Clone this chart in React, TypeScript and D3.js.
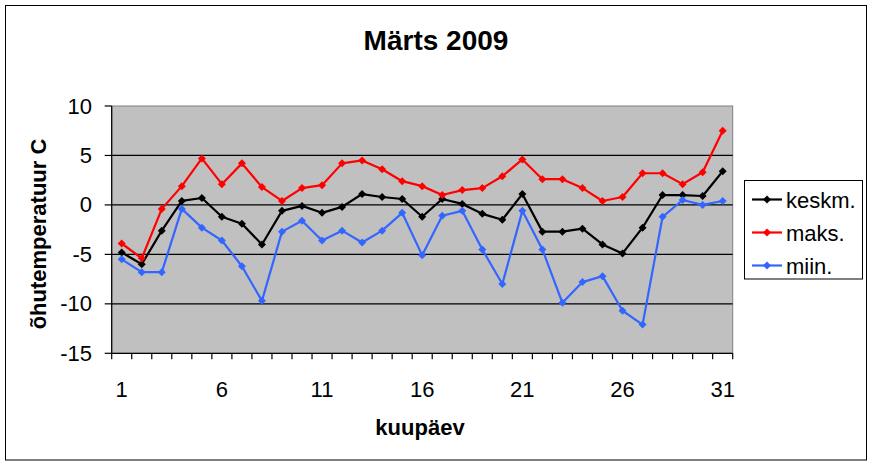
import React from "react";
import * as d3 from "d3";

const days: number[] = Array.from({ length: 31 }, (_, i) => i + 1);
const keskm: number[] = [-4.8, -6.0, -2.6, 0.4, 0.7, -1.2, -1.9, -4.0, -0.6, -0.1, -0.8, -0.2, 1.1, 0.8, 0.6, -1.2, 0.6, 0.1, -0.9, -1.5, 1.1, -2.7, -2.7, -2.4, -4.0, -4.9, -2.3, 1.0, 1.0, 0.9, 3.4];
const maks: number[] = [-3.9, -5.4, -0.4, 1.9, 4.7, 2.1, 4.2, 1.8, 0.4, 1.7, 2.0, 4.2, 4.5, 3.6, 2.4, 1.9, 1.0, 1.5, 1.7, 2.9, 4.6, 2.6, 2.6, 1.7, 0.4, 0.8, 3.2, 3.2, 2.1, 3.3, 7.5];
const miin: number[] = [-5.5, -6.8, -6.8, -0.4, -2.3, -3.6, -6.2, -9.7, -2.7, -1.6, -3.6, -2.6, -3.8, -2.6, -0.8, -5.1, -1.1, -0.6, -4.5, -8.0, -0.6, -4.5, -9.9, -7.8, -7.2, -10.7, -12.1, -1.2, 0.5, 0.0, 0.4];
const yTicks: number[] = [-15, -10, -5, 0, 5, 10];
const xTickLabels: number[] = [1, 6, 11, 16, 21, 26, 31];

const seriesList = [
  { name: "keskm.", values: keskm, color: "#000000" },
  { name: "maks.", values: maks, color: "#FF0000" },
  { name: "miin.", values: miin, color: "#3366FF" },
];

const FONT = "Arial, 'Liberation Sans', sans-serif";

export default function App() {
  const left = 111.7;
  const right = 732.7;
  const top = 106;
  const bottom = 353.3;

  const x = d3.scaleBand<number>().domain(days).range([left, right]).paddingInner(0).paddingOuter(0);
  const y = d3.scaleLinear().domain([-15, 10]).range([bottom, top]);
  const cx = (d: number) => (x(d) as number) + x.bandwidth() / 2;

  const line = d3
    .line<number>()
    .x((_, i) => cx(days[i]))
    .y((v) => y(v));

  const diamond = (px: number, py: number, r: number) =>
    `M${px},${py - r}L${px + r},${py}L${px},${py + r}L${px - r},${py}Z`;

  const boundaries = d3.range(days.length + 1).map((i) => left + i * x.bandwidth());

  return (
    <svg
      width={874}
      height={466}
      style={{ position: "absolute", left: 0, top: 0, background: "#fff" }}
      fontFamily={FONT}
    >
      <rect x={0} y={0} width={874} height={466} fill="#fff" />
      <rect x={5.5} y={5.5} width={861} height={454.5} fill="none" stroke="#000" strokeWidth={1} />
      <text x={436} y={50} textAnchor="middle" fontSize={28} fontWeight="bold">
        Märts 2009
      </text>

      {/* plot area */}
      <rect x={left} y={top} width={right - left} height={bottom - top} fill="#C0C0C0" stroke="#808080" strokeWidth={1} />
      {yTicks.filter((t) => t !== -15 && t !== 10).map((t) => (
        <line key={"g" + t} x1={left} x2={right} y1={y(t)} y2={y(t)} stroke="#000" strokeWidth={1.2} />
      ))}
      <line x1={left} x2={left} y1={top} y2={bottom} stroke="#000" strokeWidth={1.2} />
      <line x1={left} x2={right} y1={bottom} y2={bottom} stroke="#000" strokeWidth={1.2} />

      {yTicks.map((t) => (
        <g key={"yt" + t}>
          <line x1={left - 7} x2={left} y1={y(t)} y2={y(t)} stroke="#000" strokeWidth={1.2} />
          <text x={92} y={y(t) + 7.5} textAnchor="end" fontSize={22}>
            {t}
          </text>
        </g>
      ))}
      {boundaries.map((b, i) => (
        <line key={"xt" + i} x1={b} x2={b} y1={bottom} y2={bottom + 6} stroke="#000" strokeWidth={1.2} />
      ))}
      {xTickLabels.map((d) => (
        <text key={"xl" + d} x={cx(d)} y={396.5} textAnchor="middle" fontSize={22}>
          {d}
        </text>
      ))}

      <text x={420} y={435} textAnchor="middle" fontSize={22} fontWeight="bold">
        kuupäev
      </text>
      <text
        transform={`translate(46,234) rotate(-90)`}
        textAnchor="middle"
        fontSize={22}
        fontWeight="bold"
      >
        õhutemperatuur C
      </text>

      {seriesList.map((s) => (
        <g key={s.name}>
          <path d={line(s.values) || ""} fill="none" stroke={s.color} strokeWidth={2.2} strokeLinejoin="round" />
          {s.values.map((v, i) => (
            <path key={i} d={diamond(cx(days[i]), y(v), 4)} fill={s.color} />
          ))}
        </g>
      ))}

      {/* legend */}
      <rect x={744.5} y={180.5} width={118} height={98.5} fill="#fff" stroke="#000" strokeWidth={1} />
      {seriesList.map((s, i) => {
        const ly = 199.5 + i * 33;
        return (
          <g key={"lg" + s.name}>
            <line x1={752} x2={782} y1={ly} y2={ly} stroke={s.color} strokeWidth={2.2} />
            <path d={diamond(767, ly, 4)} fill={s.color} />
            <text x={786} y={ly + 8} fontSize={22}>
              {s.name}
            </text>
          </g>
        );
      })}
    </svg>
  );
}
